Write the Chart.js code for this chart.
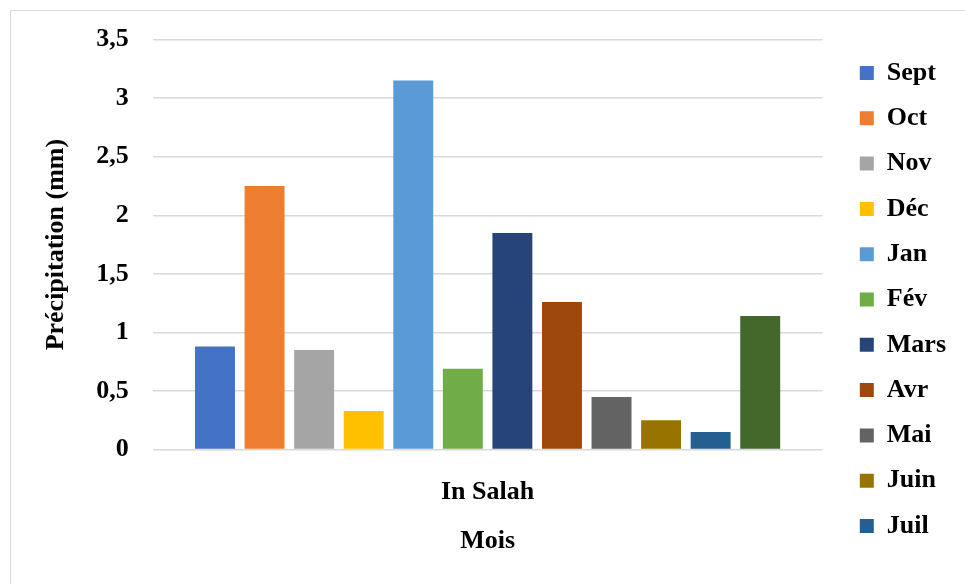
<!DOCTYPE html>
<html>
<head>
<meta charset="utf-8">
<script src="https://cdn.jsdelivr.net/npm/chart.js@4/dist/chart.umd.min.js"></script>
<style>
  html, body { margin: 0; padding: 0; background: #fff; overflow: hidden; }
  #wrap { position: relative; width: 965px; height: 584px; }
  #frame { position: absolute; left: 10px; top: 10px; width: 1000px; height: 1000px;
           border: 1px solid #d9d9d9; box-sizing: border-box; pointer-events: none; }
  canvas { position: absolute; left: 0; top: 0; }
</style>
</head>
<body>
<div id="wrap">
  <div id="frame"></div>
  <canvas id="chart" width="965" height="584"></canvas>
</div>
<script>
// Station and monthly precipitation (mm)
const station = ['In Salah'];
const months = ['Sept', 'Oct', 'Nov', 'Déc', 'Jan', 'Fév', 'Mars', 'Avr', 'Mai', 'Juin', 'Juil', 'Août'];
const precipitation = [0.88, 2.25, 0.85, 0.33, 3.15, 0.69, 1.85, 1.26, 0.45, 0.25, 0.15, 1.14];
const monthColors = ['#4472C4', '#ED7D31', '#A5A5A5', '#FFC000', '#5B9BD5', '#70AD47',
                     '#264478', '#9E480E', '#636363', '#997300', '#255E91', '#43682B'];
const yAxisTitle = 'Précipitation (mm)';
const xAxisTitle = 'Mois';
// months listed in the legend (the last one does not fit in the frame)
const legendMonths = months.slice(0, 11);

const serif = "'Liberation Serif', 'Times New Roman', serif";
const FONT = 26;
Chart.defaults.font.family = serif;
Chart.defaults.font.weight = 'bold';
Chart.defaults.color = '#000';

const datasets = months.map((m, i) => ({
  label: m,
  data: [precipitation[i]],
  backgroundColor: monthColors[i],
  borderWidth: 0,
  categoryPercentage: 0.888,
  barPercentage: 0.806
}));

// nudge the legend: some air between plot and legend, and start it lower
const legendOffset = {
  id: 'legendOffset',
  afterLayout(chart) {
    const lg = chart.legend;
    if (lg) {
      lg.left += 18; lg.right += 18;
      lg.top += 16.7; lg.bottom += 16.7;
    }
  }
};

new Chart(document.getElementById('chart'), {
  type: 'bar',
  data: { labels: station, datasets },
  plugins: [legendOffset],
  options: {
    responsive: false,
    animation: false,
    events: [],
    layout: { padding: { top: 24, left: 39, right: 27, bottom: 27 } },
    plugins: {
      tooltip: { enabled: false },
      legend: {
        position: 'right',
        align: 'start',
        labels: {
          boxWidth: 14,
          boxHeight: 14,
          padding: 19.3,
          color: '#000',
          font: { size: FONT, weight: 'bold', family: serif },
          filter: (item) => legendMonths.includes(item.text)
        }
      }
    },
    scales: {
      x: {
        grid: { display: false },
        border: { display: false },
        ticks: { padding: 19, font: { size: FONT, weight: 'bold' }, color: '#000' },
        title: { display: true, text: xAxisTitle, font: { size: FONT, weight: 'bold' }, color: '#000', padding: { top: -1, bottom: 0 } }
      },
      y: {
        min: 0,
        max: 3.5,
        border: { display: false },
        grid: { color: '#d9d9d9', lineWidth: 1.5, drawTicks: false },
        ticks: {
          stepSize: 0.5,
          padding: 24,
          font: { size: FONT, weight: 'bold' },
          color: '#000',
          callback: (v) => String(v).replace('.', ',')
        },
        title: { display: true, text: yAxisTitle, font: { size: FONT, weight: 'bold' }, color: '#000', padding: { top: 2, bottom: 0 } }
      }
    }
  }
});
</script>
</body>
</html>
